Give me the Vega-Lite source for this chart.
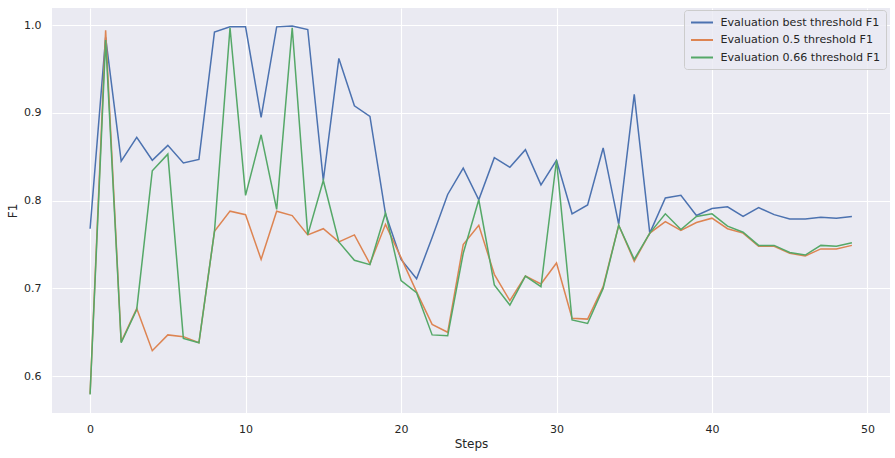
{
  "$schema": "https://vega.github.io/schema/vega-lite/v6.json",
  "autosize": "none",
  "padding": {"left": 52, "top": 8, "right": 5, "bottom": 45},
  "width": 838,
  "height": 405,
  "background": "white",
  "config": {
    "font": "DejaVu Sans",
    "view": {"fill": "#eaeaf2", "stroke": null},
    "axis": {
      "domain": false,
      "ticks": false,
      "grid": true,
      "gridColor": "white",
      "gridWidth": 1.1,
      "labelFont": "DejaVu Sans",
      "labelFontSize": 11,
      "labelColor": "#262626",
      "titleFont": "DejaVu Sans",
      "titleFontSize": 12,
      "titleFontWeight": "normal",
      "titleColor": "#262626"
    }
  },
  "data": {"values": [
    {"step":0,"series":"Evaluation best threshold F1","f1":0.768},
    {"step":1,"series":"Evaluation best threshold F1","f1":0.986},
    {"step":2,"series":"Evaluation best threshold F1","f1":0.845},
    {"step":3,"series":"Evaluation best threshold F1","f1":0.872},
    {"step":4,"series":"Evaluation best threshold F1","f1":0.846},
    {"step":5,"series":"Evaluation best threshold F1","f1":0.863},
    {"step":6,"series":"Evaluation best threshold F1","f1":0.843},
    {"step":7,"series":"Evaluation best threshold F1","f1":0.847},
    {"step":8,"series":"Evaluation best threshold F1","f1":0.992},
    {"step":9,"series":"Evaluation best threshold F1","f1":0.998},
    {"step":10,"series":"Evaluation best threshold F1","f1":0.998},
    {"step":11,"series":"Evaluation best threshold F1","f1":0.895},
    {"step":12,"series":"Evaluation best threshold F1","f1":0.998},
    {"step":13,"series":"Evaluation best threshold F1","f1":0.999},
    {"step":14,"series":"Evaluation best threshold F1","f1":0.995},
    {"step":15,"series":"Evaluation best threshold F1","f1":0.823},
    {"step":16,"series":"Evaluation best threshold F1","f1":0.962},
    {"step":17,"series":"Evaluation best threshold F1","f1":0.908},
    {"step":18,"series":"Evaluation best threshold F1","f1":0.896},
    {"step":19,"series":"Evaluation best threshold F1","f1":0.785},
    {"step":20,"series":"Evaluation best threshold F1","f1":0.733},
    {"step":21,"series":"Evaluation best threshold F1","f1":0.711},
    {"step":22,"series":"Evaluation best threshold F1","f1":0.758},
    {"step":23,"series":"Evaluation best threshold F1","f1":0.807},
    {"step":24,"series":"Evaluation best threshold F1","f1":0.837},
    {"step":25,"series":"Evaluation best threshold F1","f1":0.801},
    {"step":26,"series":"Evaluation best threshold F1","f1":0.849},
    {"step":27,"series":"Evaluation best threshold F1","f1":0.838},
    {"step":28,"series":"Evaluation best threshold F1","f1":0.858},
    {"step":29,"series":"Evaluation best threshold F1","f1":0.818},
    {"step":30,"series":"Evaluation best threshold F1","f1":0.846},
    {"step":31,"series":"Evaluation best threshold F1","f1":0.785},
    {"step":32,"series":"Evaluation best threshold F1","f1":0.795},
    {"step":33,"series":"Evaluation best threshold F1","f1":0.860},
    {"step":34,"series":"Evaluation best threshold F1","f1":0.773},
    {"step":35,"series":"Evaluation best threshold F1","f1":0.921},
    {"step":36,"series":"Evaluation best threshold F1","f1":0.763},
    {"step":37,"series":"Evaluation best threshold F1","f1":0.803},
    {"step":38,"series":"Evaluation best threshold F1","f1":0.806},
    {"step":39,"series":"Evaluation best threshold F1","f1":0.783},
    {"step":40,"series":"Evaluation best threshold F1","f1":0.791},
    {"step":41,"series":"Evaluation best threshold F1","f1":0.793},
    {"step":42,"series":"Evaluation best threshold F1","f1":0.782},
    {"step":43,"series":"Evaluation best threshold F1","f1":0.792},
    {"step":44,"series":"Evaluation best threshold F1","f1":0.784},
    {"step":45,"series":"Evaluation best threshold F1","f1":0.779},
    {"step":46,"series":"Evaluation best threshold F1","f1":0.779},
    {"step":47,"series":"Evaluation best threshold F1","f1":0.781},
    {"step":48,"series":"Evaluation best threshold F1","f1":0.780},
    {"step":49,"series":"Evaluation best threshold F1","f1":0.782},
    {"step":0,"series":"Evaluation 0.5 threshold F1","f1":0.580},
    {"step":1,"series":"Evaluation 0.5 threshold F1","f1":0.994},
    {"step":2,"series":"Evaluation 0.5 threshold F1","f1":0.639},
    {"step":3,"series":"Evaluation 0.5 threshold F1","f1":0.677},
    {"step":4,"series":"Evaluation 0.5 threshold F1","f1":0.629},
    {"step":5,"series":"Evaluation 0.5 threshold F1","f1":0.647},
    {"step":6,"series":"Evaluation 0.5 threshold F1","f1":0.645},
    {"step":7,"series":"Evaluation 0.5 threshold F1","f1":0.638},
    {"step":8,"series":"Evaluation 0.5 threshold F1","f1":0.765},
    {"step":9,"series":"Evaluation 0.5 threshold F1","f1":0.788},
    {"step":10,"series":"Evaluation 0.5 threshold F1","f1":0.784},
    {"step":11,"series":"Evaluation 0.5 threshold F1","f1":0.733},
    {"step":12,"series":"Evaluation 0.5 threshold F1","f1":0.788},
    {"step":13,"series":"Evaluation 0.5 threshold F1","f1":0.783},
    {"step":14,"series":"Evaluation 0.5 threshold F1","f1":0.761},
    {"step":15,"series":"Evaluation 0.5 threshold F1","f1":0.768},
    {"step":16,"series":"Evaluation 0.5 threshold F1","f1":0.753},
    {"step":17,"series":"Evaluation 0.5 threshold F1","f1":0.761},
    {"step":18,"series":"Evaluation 0.5 threshold F1","f1":0.728},
    {"step":19,"series":"Evaluation 0.5 threshold F1","f1":0.773},
    {"step":20,"series":"Evaluation 0.5 threshold F1","f1":0.735},
    {"step":21,"series":"Evaluation 0.5 threshold F1","f1":0.696},
    {"step":22,"series":"Evaluation 0.5 threshold F1","f1":0.659},
    {"step":23,"series":"Evaluation 0.5 threshold F1","f1":0.650},
    {"step":24,"series":"Evaluation 0.5 threshold F1","f1":0.750},
    {"step":25,"series":"Evaluation 0.5 threshold F1","f1":0.772},
    {"step":26,"series":"Evaluation 0.5 threshold F1","f1":0.716},
    {"step":27,"series":"Evaluation 0.5 threshold F1","f1":0.686},
    {"step":28,"series":"Evaluation 0.5 threshold F1","f1":0.714},
    {"step":29,"series":"Evaluation 0.5 threshold F1","f1":0.705},
    {"step":30,"series":"Evaluation 0.5 threshold F1","f1":0.729},
    {"step":31,"series":"Evaluation 0.5 threshold F1","f1":0.666},
    {"step":32,"series":"Evaluation 0.5 threshold F1","f1":0.665},
    {"step":33,"series":"Evaluation 0.5 threshold F1","f1":0.702},
    {"step":34,"series":"Evaluation 0.5 threshold F1","f1":0.772},
    {"step":35,"series":"Evaluation 0.5 threshold F1","f1":0.731},
    {"step":36,"series":"Evaluation 0.5 threshold F1","f1":0.763},
    {"step":37,"series":"Evaluation 0.5 threshold F1","f1":0.776},
    {"step":38,"series":"Evaluation 0.5 threshold F1","f1":0.766},
    {"step":39,"series":"Evaluation 0.5 threshold F1","f1":0.775},
    {"step":40,"series":"Evaluation 0.5 threshold F1","f1":0.780},
    {"step":41,"series":"Evaluation 0.5 threshold F1","f1":0.768},
    {"step":42,"series":"Evaluation 0.5 threshold F1","f1":0.763},
    {"step":43,"series":"Evaluation 0.5 threshold F1","f1":0.748},
    {"step":44,"series":"Evaluation 0.5 threshold F1","f1":0.748},
    {"step":45,"series":"Evaluation 0.5 threshold F1","f1":0.740},
    {"step":46,"series":"Evaluation 0.5 threshold F1","f1":0.737},
    {"step":47,"series":"Evaluation 0.5 threshold F1","f1":0.745},
    {"step":48,"series":"Evaluation 0.5 threshold F1","f1":0.745},
    {"step":49,"series":"Evaluation 0.5 threshold F1","f1":0.749},
    {"step":0,"series":"Evaluation 0.66 threshold F1","f1":0.579},
    {"step":1,"series":"Evaluation 0.66 threshold F1","f1":0.983},
    {"step":2,"series":"Evaluation 0.66 threshold F1","f1":0.638},
    {"step":3,"series":"Evaluation 0.66 threshold F1","f1":0.676},
    {"step":4,"series":"Evaluation 0.66 threshold F1","f1":0.834},
    {"step":5,"series":"Evaluation 0.66 threshold F1","f1":0.853},
    {"step":6,"series":"Evaluation 0.66 threshold F1","f1":0.643},
    {"step":7,"series":"Evaluation 0.66 threshold F1","f1":0.638},
    {"step":8,"series":"Evaluation 0.66 threshold F1","f1":0.765},
    {"step":9,"series":"Evaluation 0.66 threshold F1","f1":0.997},
    {"step":10,"series":"Evaluation 0.66 threshold F1","f1":0.806},
    {"step":11,"series":"Evaluation 0.66 threshold F1","f1":0.875},
    {"step":12,"series":"Evaluation 0.66 threshold F1","f1":0.790},
    {"step":13,"series":"Evaluation 0.66 threshold F1","f1":0.997},
    {"step":14,"series":"Evaluation 0.66 threshold F1","f1":0.761},
    {"step":15,"series":"Evaluation 0.66 threshold F1","f1":0.823},
    {"step":16,"series":"Evaluation 0.66 threshold F1","f1":0.753},
    {"step":17,"series":"Evaluation 0.66 threshold F1","f1":0.732},
    {"step":18,"series":"Evaluation 0.66 threshold F1","f1":0.727},
    {"step":19,"series":"Evaluation 0.66 threshold F1","f1":0.786},
    {"step":20,"series":"Evaluation 0.66 threshold F1","f1":0.709},
    {"step":21,"series":"Evaluation 0.66 threshold F1","f1":0.695},
    {"step":22,"series":"Evaluation 0.66 threshold F1","f1":0.647},
    {"step":23,"series":"Evaluation 0.66 threshold F1","f1":0.646},
    {"step":24,"series":"Evaluation 0.66 threshold F1","f1":0.740},
    {"step":25,"series":"Evaluation 0.66 threshold F1","f1":0.801},
    {"step":26,"series":"Evaluation 0.66 threshold F1","f1":0.704},
    {"step":27,"series":"Evaluation 0.66 threshold F1","f1":0.681},
    {"step":28,"series":"Evaluation 0.66 threshold F1","f1":0.714},
    {"step":29,"series":"Evaluation 0.66 threshold F1","f1":0.702},
    {"step":30,"series":"Evaluation 0.66 threshold F1","f1":0.846},
    {"step":31,"series":"Evaluation 0.66 threshold F1","f1":0.664},
    {"step":32,"series":"Evaluation 0.66 threshold F1","f1":0.660},
    {"step":33,"series":"Evaluation 0.66 threshold F1","f1":0.700},
    {"step":34,"series":"Evaluation 0.66 threshold F1","f1":0.772},
    {"step":35,"series":"Evaluation 0.66 threshold F1","f1":0.733},
    {"step":36,"series":"Evaluation 0.66 threshold F1","f1":0.763},
    {"step":37,"series":"Evaluation 0.66 threshold F1","f1":0.785},
    {"step":38,"series":"Evaluation 0.66 threshold F1","f1":0.767},
    {"step":39,"series":"Evaluation 0.66 threshold F1","f1":0.782},
    {"step":40,"series":"Evaluation 0.66 threshold F1","f1":0.785},
    {"step":41,"series":"Evaluation 0.66 threshold F1","f1":0.771},
    {"step":42,"series":"Evaluation 0.66 threshold F1","f1":0.764},
    {"step":43,"series":"Evaluation 0.66 threshold F1","f1":0.749},
    {"step":44,"series":"Evaluation 0.66 threshold F1","f1":0.749},
    {"step":45,"series":"Evaluation 0.66 threshold F1","f1":0.741},
    {"step":46,"series":"Evaluation 0.66 threshold F1","f1":0.738},
    {"step":47,"series":"Evaluation 0.66 threshold F1","f1":0.749},
    {"step":48,"series":"Evaluation 0.66 threshold F1","f1":0.748},
    {"step":49,"series":"Evaluation 0.66 threshold F1","f1":0.752}
  ]},
  "mark": {"type": "line", "strokeWidth": 1.5},
  "encoding": {
    "x": {
      "field": "step", "type": "quantitative",
      "scale": {"domain": [-2.45, 51.45], "nice": false, "zero": false},
      "axis": {"values": [0, 10, 20, 30, 40, 50], "title": "Steps", "labelPadding": 10, "titlePadding": 4}
    },
    "y": {
      "field": "f1", "type": "quantitative",
      "scale": {"domain": [0.558, 1.0195], "nice": false, "zero": false},
      "axis": {"values": [0.6, 0.7, 0.8, 0.9, 1.0], "format": ".1f", "title": "F1", "labelPadding": 11, "titlePadding": 4}
    },
    "color": {
      "field": "series", "type": "nominal",
      "scale": {
        "domain": ["Evaluation best threshold F1", "Evaluation 0.5 threshold F1", "Evaluation 0.66 threshold F1"],
        "range": ["#4c72b0", "#dd8452", "#55a868"]
      },
      "legend": {
        "title": null,
        "orient": "none",
        "legendX": 632,
        "legendY": 2,
        "direction": "vertical",
        "fillColor": "rgba(234,234,242,0.8)",
        "strokeColor": "#cccccc",
        "cornerRadius": 3,
        "padding": 6,
        "rowPadding": 5.5,
        "symbolType": "M-2,0H2",
        "symbolSize": 121,
        "symbolStrokeWidth": 2,
        "symbolOffset": 5.5,
        "labelOffset": 12,
        "labelFont": "DejaVu Sans",
        "labelFontSize": 11.1,
        "labelColor": "#262626",
        "labelLimit": 300
      }
    },
    "order": {"field": "step", "type": "quantitative"}
  }
}
